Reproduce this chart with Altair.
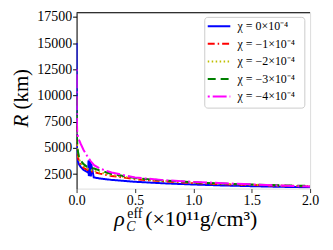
import altair as alt
import pandas as pd

labels = ["χ = 0×10⁻⁴", "χ = −1×10⁻⁴", "χ = −2×10⁻⁴", "χ = −3×10⁻⁴", "χ = −4×10⁻⁴"]
colors = ["#0000ff", "#ff0000", "#bfbf00", "#008000", "#ff00ff"]
dashes = [[1, 0], [7, 3, 1.5, 3], [1.5, 2.5], [8, 5], [2, 3, 14, 3]]

# chi = 0
x0 = [0.0, 0.001, 0.003, 0.006, 0.012, 0.02, 0.035, 0.06, 0.09, 0.1, 0.102, 0.105, 0.108,
      0.111, 0.114, 0.117, 0.12, 0.123, 0.126, 0.147, 0.2, 0.3, 0.5, 0.75, 1.0, 1.25, 1.5,
      1.75, 2.0]
r0 = [15000, 9500, 5500, 4100, 3700, 3450, 3190, 2900, 2720, 2620, 3800, 2330, 3830,
      2310, 3750, 2300, 3650, 2280, 3450, 2190, 2080, 1950, 1770, 1620, 1510, 1420, 1350,
      1290, 1240]

xs = [0.0, 0.001, 0.003, 0.006, 0.012, 0.02, 0.035, 0.06, 0.09, 0.12, 0.15, 0.2, 0.3, 0.5,
      0.75, 1.0, 1.25, 1.5, 1.75, 2.0]
# chi = -1
r1 = [7200, 6300, 5400, 4700, 4100, 3750, 3400, 3100, 2900, 2780, 2700, 2550, 2330, 2020,
      1800, 1650, 1540, 1460, 1390, 1330]
# chi = -2
r2 = [8000, 6900, 5800, 5000, 4350, 3950, 3580, 3260, 3040, 2900, 2820, 2660, 2420, 2080,
      1840, 1690, 1570, 1490, 1410, 1350]
# chi = -3
r3 = [9800, 7600, 6300, 5400, 4650, 4200, 3800, 3450, 3200, 3100, 3030, 2850, 2520, 2130,
      1880, 1720, 1600, 1510, 1430, 1370]
# chi = -4
r4 = [12500, 9000, 7500, 6400, 6100, 5800, 5400, 4800, 4250, 3750, 3350, 3030, 2650, 2180,
      1920, 1760, 1640, 1520, 1410, 1320]

series = [(x0, r0), (xs, r1), (xs, r2), (xs, r3), (xs, r4)]
rows = []
for lab, (xv, rv) in zip(labels, series):
    for i, (a, b) in enumerate(zip(xv, rv)):
        rows.append({"series": lab, "x": a, "r": b, "i": i})
df = pd.DataFrame(rows)

W, H = 235, 177
FONT = "Liberation Serif"

color_scale = alt.Scale(domain=labels, range=colors)
dash_scale = alt.Scale(domain=labels, range=dashes)

lines = alt.Chart(df).mark_line(strokeWidth=2, clip=True).encode(
    x=alt.X("x:Q", scale=alt.Scale(domain=[0, 2], nice=False),
            axis=alt.Axis(values=[0, 0.5, 1, 1.5, 2], format=".1f", title=None, grid=False,
                          domain=False, tickColor="#333333", tickSize=4, labelFlush=False,
                          labelFont=FONT, labelFontSize=14, labelColor="black", labelPadding=1)),
    y=alt.Y("r:Q", scale=alt.Scale(domain=[1120, 17900], nice=False, zero=False),
            axis=alt.Axis(values=list(range(2500, 17501, 2500)), format="d", title=None, grid=False,
                          domainColor="black", tickColor="black", tickSize=4, labelFlush=False,
                          labelFont=FONT, labelFontSize=14, labelColor="black", labelPadding=1)),
    color=alt.Color("series:N", scale=color_scale, legend=None),
    strokeDash=alt.StrokeDash("series:N", scale=dash_scale, legend=None),
    order="i:Q",
)

top_rule = alt.Chart(pd.DataFrame({"a": [0]})).mark_rule(color="black", strokeWidth=1).encode(
    x=alt.value(0), x2=alt.value(W), y=alt.value(0)
)

# manual legend (pixel positions inside the plot area)
leg_df = pd.DataFrame({"series": labels, "ly": [13.7, 31.3, 49.0, 66.7, 84.3]})
leg_box = alt.Chart(pd.DataFrame({"a": [0]})).mark_rect(
    fill="white", stroke="#cccccc", strokeWidth=1, cornerRadius=3
).encode(x=alt.value(129), x2=alt.value(229.7), y=alt.value(4.7), y2=alt.value(96))
leg_sym = alt.Chart(leg_df).mark_rule(strokeWidth=2).encode(
    x=alt.value(132), x2=alt.value(154.7), y=alt.Y("ly:Q", scale=None),
    color=alt.Color("series:N", scale=color_scale, legend=None),
    strokeDash=alt.StrokeDash("series:N", scale=dash_scale, legend=None),
)
leg_txt = alt.Chart(leg_df).mark_text(
    font=FONT, fontSize=12, align="left", baseline="middle", color="black"
).encode(x=alt.value(162), y=alt.Y("ly:Q", scale=None), text="series:N")

# axis titles built from pieces
ital = pd.DataFrame({
    "t": ["ρ", "C", "R"],
    "px": [38, 50, -55],
    "py": [214.7, 220, 109],
    "sz": [22, 14, 21],
    "ang": [0, 0, 270],
})
upr = pd.DataFrame({
    "t": ["eff", "(×10¹¹g/cm³)", "(km)"],
    "px": [51, 69, -55],
    "py": [207, 214.7, 77],
    "sz": [14, 22, 21],
    "ang": [0, 0, 270],
})

def txt(d, italic, rotated):
    kw = dict(font=FONT, color="black")
    if italic:
        kw["fontStyle"] = "italic"
    if rotated:
        kw.update(align="center", baseline="middle", angle=270)
    else:
        kw.update(align="left", baseline="alphabetic")
    return alt.Chart(d).mark_text(**kw).encode(
        x=alt.X("px:Q", scale=None), y=alt.Y("py:Q", scale=None), text="t:N",
        size=alt.Size("sz:Q", scale=None, legend=None))

layers = [
    lines, top_rule, leg_box, leg_sym, leg_txt,
    txt(ital[ital.ang == 0], True, False),
    txt(ital[ital.ang != 0], True, True),
    txt(upr[upr.ang == 0], False, False),
    txt(upr[upr.ang != 0], False, True),
]

chart = alt.layer(*layers).resolve_scale(
    size="independent"
).properties(
    width=W, height=H,
    autosize=alt.AutoSizeParams(type="none"),
    padding={"left": 69, "top": 4, "right": 15, "bottom": 50},
).configure_view(stroke="#888888", strokeWidth=1).configure(
    background="white", font=FONT
).configure_axis(labelFont=FONT, labelFontSize=14)

chart.save("out.html", embed_options={"renderer": "svg", "actions": False})
